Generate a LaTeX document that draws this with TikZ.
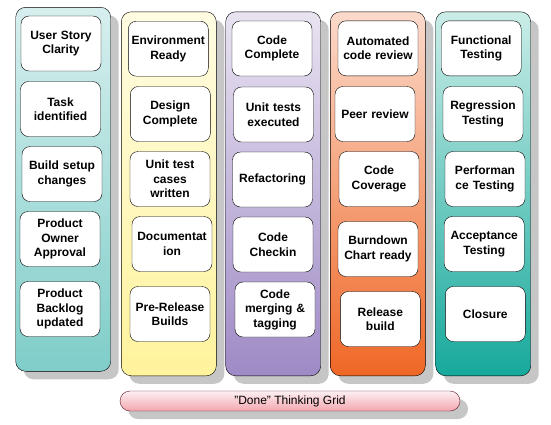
\documentclass[tikz,border=0pt]{standalone}
\usepackage{fontspec}
\setmainfont{Liberation Sans}
\usetikzlibrary{shadows}

\definecolor{tealtop}{HTML}{D6EFEE}
\definecolor{tealbot}{HTML}{7FCDC9}
\definecolor{yeltop}{HTML}{FFFCE2}
\definecolor{yelbot}{HTML}{FFF39C}
\definecolor{purtop}{HTML}{E9E3F1}
\definecolor{purbot}{HTML}{9E8AC5}
\definecolor{orgtop}{HTML}{FBDACB}
\definecolor{orgbot}{HTML}{EF6726}
\definecolor{grntop}{HTML}{CBEDE8}
\definecolor{grnbot}{HTML}{17A99C}
\definecolor{pinktop}{HTML}{FDF0F2}
\definecolor{pinkbot}{HTML}{F3A6AF}
\definecolor{barline}{HTML}{5A141E}
\definecolor{shade}{HTML}{C6C6C6}

\tikzset{
  column/.style={draw=black, rounded corners=10pt, minimum width=95pt,
    minimum height=364pt, inner sep=0pt,
    drop shadow={shadow xshift=8pt, shadow yshift=-8pt, fill=shade, opacity=1}},
  task/.style={draw=black, fill=white, rounded corners=8pt, minimum width=80pt,
    minimum height=55pt, inner sep=1pt, align=center, text width=78pt,
    font=\bfseries\fontsize{12}{14.5}\selectfont}
}

\begin{document}
\begin{tikzpicture}[x=1pt, y=-1pt]
    \useasboundingbox (0, 0) rectangle (551, 424);
    % columns
    \node [column, top color=tealtop, bottom color=tealbot] (c1) at (63.2, 189.3) {};
    \node [column, top color=yeltop, bottom color=yelbot] (c2) at (168.8, 193.8) {};
    \node [column, top color=purtop, bottom color=purbot] (c3) at (273.2, 193.8) {};
    \node [column, top color=orgtop, bottom color=orgbot] (c4) at (377.8, 193.8) {};
    \node [column, top color=grntop, bottom color=grnbot] (c5) at (483.2, 193.8) {};
    % first column
    \node [task] (story) at (61, 43.5) {User Story\\Clarity};
    \node [task] (task) at (60.5, 109) {Task\\identified};
    \node [task] (build) at (62, 174) {Build setup\\changes};
    \node [task] (owner) at (60, 239) {Product\\Owner\\Approval};
    \node [task] (backlog) at (60, 309) {Product\\Backlog\\updated};
    % second column
    \node [task] (env) at (168.3, 48.7) {Environment\\Ready};
    \node [task] (design) at (170.3, 114) {Design\\Complete};
    \node [task] (cases) at (170, 179) {Unit test\\cases\\written};
    \node [task] (docs) at (172, 244) {Documentat\\ion};
    \node [task] (prerel) at (170, 314) {Pre-Release\\Builds};
    % third column
    \node [task] (complete) at (272, 48.5) {Code\\Complete};
    \node [task] (unit) at (273.5, 114.5) {Unit tests\\executed};
    \node [task] (refactor) at (272.5, 179.5) {Refactoring};
    \node [task] (checkin) at (273, 244.5) {Code\\Checkin};
    \node [task] (merge) at (275, 309.5) {Code\\merging \&\\tagging};
    % fourth column
    \node [task] (auto) at (378, 48.3) {Automated\\code review};
    \node [task] (peer) at (375, 114) {Peer review};
    \node [task] (cover) at (379, 179) {Code\\Coverage};
    \node [task] (burn) at (378, 249) {Burndown\\Chart ready};
    \node [task] (release) at (380.3, 319) {Release\\build};
    % fifth column
    \node [task] (func) at (481.2, 48.3) {Functional\\Testing};
    \node [task] (regr) at (483, 114) {Regression\\Testing};
    \node [task] (perf) at (485, 179) {Performan\\ce Testing};
    \node [task] (accept) at (484.2, 244) {Acceptance\\Testing};
    \node [task] (closure) at (485.3, 314) {Closure};
    % caption bar
    \node [draw=barline, rounded corners=10pt,
      top color=pinktop, bottom color=pinkbot, minimum width=340pt,
      minimum height=20pt, inner sep=0pt, font=\fontsize{12}{14}\selectfont,
      drop shadow={shadow xshift=8pt, shadow yshift=-8pt, fill=shade, opacity=1}]
      (grid) at (290, 401) {\symbol{34}Done\symbol{34} Thinking Grid};
\end{tikzpicture}
\end{document}
